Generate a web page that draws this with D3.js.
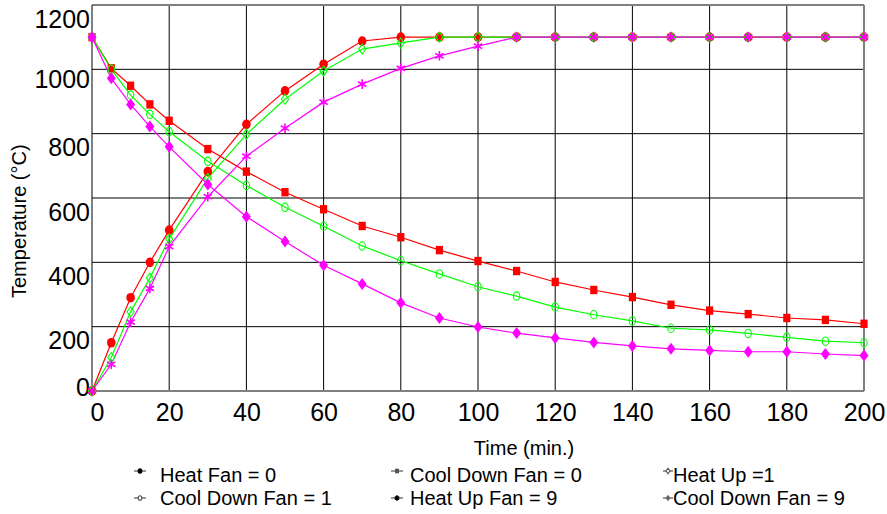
<!DOCTYPE html>
<html>
<head>
<meta charset="utf-8">
<script src="https://cdn.jsdelivr.net/npm/d3@7"></script>
<style>
  html, body { margin: 0; padding: 0; background: #fff; }
  svg { display: block; font-family: "Liberation Sans", Arial, sans-serif; }
</style>
</head>
<body>
<script>
// ---- data ----
const times = [0, 5, 10, 15, 20, 30, 40, 50, 60, 70, 80, 90, 100, 110, 120, 130, 140, 150, 160, 170, 180, 190, 200];
const heatFan0 = [0, 150, 290, 400, 500, 682, 829, 933, 1016, 1088, 1100, 1100, 1100, 1100, 1100, 1100, 1100, 1100, 1100, 1100, 1100, 1100, 1100];
const coolFan0 = [1100, 1003, 949, 891, 840, 752, 682, 618, 565, 513, 478, 438, 404, 373, 339, 314, 292, 268, 250, 239, 227, 221, 209];
const heatUp1 = [0, 104, 246, 351, 473, 661, 798, 907, 995, 1063, 1082, 1100, 1100, 1100, 1100, 1100, 1100, 1100, 1100, 1100, 1100, 1100, 1100];
const coolFan1 = [1100, 1000, 920, 860, 806, 714, 639, 571, 512, 451, 405, 364, 324, 295, 261, 237, 218, 195, 190, 179, 167, 155, 150];
const heatFan9 = [0, 83, 214, 319, 449, 604, 730, 817, 898, 954, 1003, 1042, 1072, 1100, 1100, 1100, 1100, 1100, 1100, 1100, 1100, 1100, 1100];
const coolFan9 = [1100, 972, 891, 822, 759, 642, 542, 465, 391, 333, 274, 227, 199, 180, 165, 151, 140, 131, 126, 122, 122, 115, 110];

const seriesNames = ["Heat Fan = 0", "Cool Down Fan = 0", "Heat Up =1", "Cool Down Fan = 1", "Heat Up Fan = 9", "Cool Down Fan = 9"];
const seriesValues = [heatFan0, coolFan0, heatUp1, coolFan1, heatFan9, coolFan9];
const seriesColors = ["#ff0000", "#ff0000", "#00ff00", "#00ff00", "#ff00ff", "#ff00ff"];
const seriesMarkers = ["circle", "square", "diamondOpen", "circleOpen", "asterisk", "diamond"];

const xTicks = [0, 20, 40, 60, 80, 100, 120, 140, 160, 180, 200];
const yTicks = [0, 200, 400, 600, 800, 1000, 1200];
const xTitle = "Time (min.)";
const yTitle = "Temperature (°C)";

// ---- layout ----
const W = 887, H = 514;
const plot = { left: 92, right: 864, top: 5, bottom: 391 };

const svg = d3.select("body").append("svg").attr("width", W).attr("height", H);

const x = d3.scaleLinear().domain([0, 200]).range([plot.left, plot.right]);
const y = d3.scaleLinear().domain([0, 1200]).range([plot.bottom, plot.top]);

// grid
const grid = svg.append("g");
grid.selectAll("line.v").data(xTicks.filter(d => d > 0 && d < 200)).join("line")
  .attr("x1", d => x(d)).attr("x2", d => x(d))
  .attr("y1", plot.top).attr("y2", plot.bottom)
  .attr("stroke", "#000").attr("stroke-width", 1);
grid.selectAll("line.h").data(yTicks.filter(d => d > 0 && d < 1200)).join("line")
  .attr("x1", plot.left).attr("x2", plot.right)
  .attr("y1", d => y(d)).attr("y2", d => y(d))
  .attr("stroke", "#000").attr("stroke-width", 1);

// frame
grid.append("line").attr("x1", plot.left).attr("x2", plot.right).attr("y1", y(1200)).attr("y2", y(1200))
  .attr("stroke", "#808080").attr("stroke-width", 2);
grid.append("line").attr("x1", x(200)).attr("x2", x(200)).attr("y1", plot.top).attr("y2", plot.bottom)
  .attr("stroke", "#808080").attr("stroke-width", 2);
grid.append("line").attr("x1", plot.left).attr("x2", plot.right).attr("y1", y(0)).attr("y2", y(0))
  .attr("stroke", "#808080").attr("stroke-width", 2);
grid.append("line").attr("x1", x(0)).attr("x2", x(0)).attr("y1", plot.top).attr("y2", plot.bottom)
  .attr("stroke", "#000").attr("stroke-width", 1);

// axes labels via d3 axes
const yAxis = svg.append("g").attr("transform", `translate(${plot.left},0)`)
  .call(d3.axisLeft(y).tickValues(yTicks).tickSize(0).tickPadding(2).tickFormat(d3.format("d")));
yAxis.select(".domain").remove();
yAxis.selectAll("text")
  .attr("font-size", 25).attr("font-family", "Liberation Sans, Arial, sans-serif").attr("fill", "#000")
  .attr("dy", null)
  .attr("y", d => d === 0 ? 4 : (d === 1000 ? 18 : 22));

const xAxis = svg.append("g").attr("transform", `translate(0,${plot.bottom})`)
  .call(d3.axisBottom(x).tickValues(xTicks).tickSize(0).tickPadding(0).tickFormat(d3.format("d")));
xAxis.select(".domain").remove();
xAxis.selectAll("text")
  .attr("font-size", 25).attr("font-family", "Liberation Sans, Arial, sans-serif").attr("fill", "#000")
  .attr("dy", null)
  .attr("y", 30)
  .attr("x", d => d === 0 ? 5 : 0);
xAxis.selectAll(".tick line").remove();

// titles
svg.append("text").attr("x", 524).attr("y", 455).attr("text-anchor", "middle")
  .attr("font-size", 20).attr("fill", "#000").text(xTitle);
svg.append("text").attr("transform", "translate(26,298) rotate(-90)").attr("text-anchor", "start")
  .attr("font-size", 20).attr("fill", "#000").text(yTitle);

// marker drawing
function drawMarker(g, type, color, scale) {
  const s = scale || 1;
  switch (type) {
    case "circle":
      g.append("ellipse").attr("rx", 4.3 * s).attr("ry", 4.8 * s).attr("fill", color);
      break;
    case "square":
      g.append("rect").attr("x", -3.6 * s).attr("y", -4.2 * s).attr("width", 7.2 * s).attr("height", 8.4 * s).attr("fill", color);
      break;
    case "diamondOpen":
      g.append("path").attr("d", `M0,${-5 * s}L${3.6 * s},0L0,${5 * s}L${-3.6 * s},0Z`)
        .attr("fill", "none").attr("stroke", color).attr("stroke-width", 1.1);
      break;
    case "circleOpen":
      g.append("ellipse").attr("rx", 3.2 * s).attr("ry", 4.2 * s)
        .attr("fill", "none").attr("stroke", color).attr("stroke-width", 1.1);
      break;
    case "asterisk": {
      const r = 4.8 * s;
      const a = r * Math.cos(Math.PI / 6), b = r * Math.sin(Math.PI / 6);
      g.append("path").attr("d", `M0,${-r}L0,${r}M${-a},${-b}L${a},${b}M${-a},${b}L${a},${-b}`)
        .attr("stroke", color).attr("stroke-width", 1.6).attr("fill", "none");
      break;
    }
    case "diamond":
      g.append("path").attr("d", `M0,${-6 * s}L${4.5 * s},0L0,${6 * s}L${-4.5 * s},0Z`).attr("fill", color);
      break;
  }
}

// series
const line = d3.line().x((d, i) => x(times[i])).y(d => y(d));
const seriesG = svg.append("g");
seriesValues.forEach((vals, k) => {
  const g = seriesG.append("g");
  g.append("path").attr("d", line(vals)).attr("fill", "none")
    .attr("stroke", seriesColors[k]).attr("stroke-width", 1.2);
});
seriesValues.forEach((vals, k) => {
  const g = seriesG.append("g");
  vals.forEach((v, i) => {
    const mg = g.append("g").attr("transform", `translate(${x(times[i])},${y(v)})`);
    drawMarker(mg, seriesMarkers[k], seriesColors[k], 1);
  });
});

// legend
const legendCols = [{ mx: 140, tx: 160 }, { mx: 397, tx: 410 }, { mx: 668, tx: 673 }];
const legendRows = [{ my: 471, ty: 482 }, { my: 498, ty: 505 }];
const legendColors = ["#000", "#555", "#555", "#555", "#000", "#666"];
seriesNames.forEach((name, k) => {
  const c = legendCols[k % 3], r = legendRows[Math.floor(k / 3)];
  const g = svg.append("g");
  const half = (k % 3 === 2) ? 5 : 6;
  g.append("line").attr("x1", c.mx - half).attr("x2", c.mx + half).attr("y1", r.my).attr("y2", r.my)
    .attr("stroke", "#333").attr("stroke-width", 1);
  const mg = g.append("g").attr("transform", `translate(${c.mx},${r.my})`);
  drawMarker(mg, seriesMarkers[k], legendColors[k], 0.55);
  if (seriesMarkers[k] === "circleOpen" || seriesMarkers[k] === "diamondOpen") {
    mg.selectAll("*").attr("fill", "#fff");
  }
  g.append("text").attr("x", c.tx).attr("y", r.ty).attr("font-size", 20).attr("fill", "#000").text(name);
});
</script>
</body>
</html>
